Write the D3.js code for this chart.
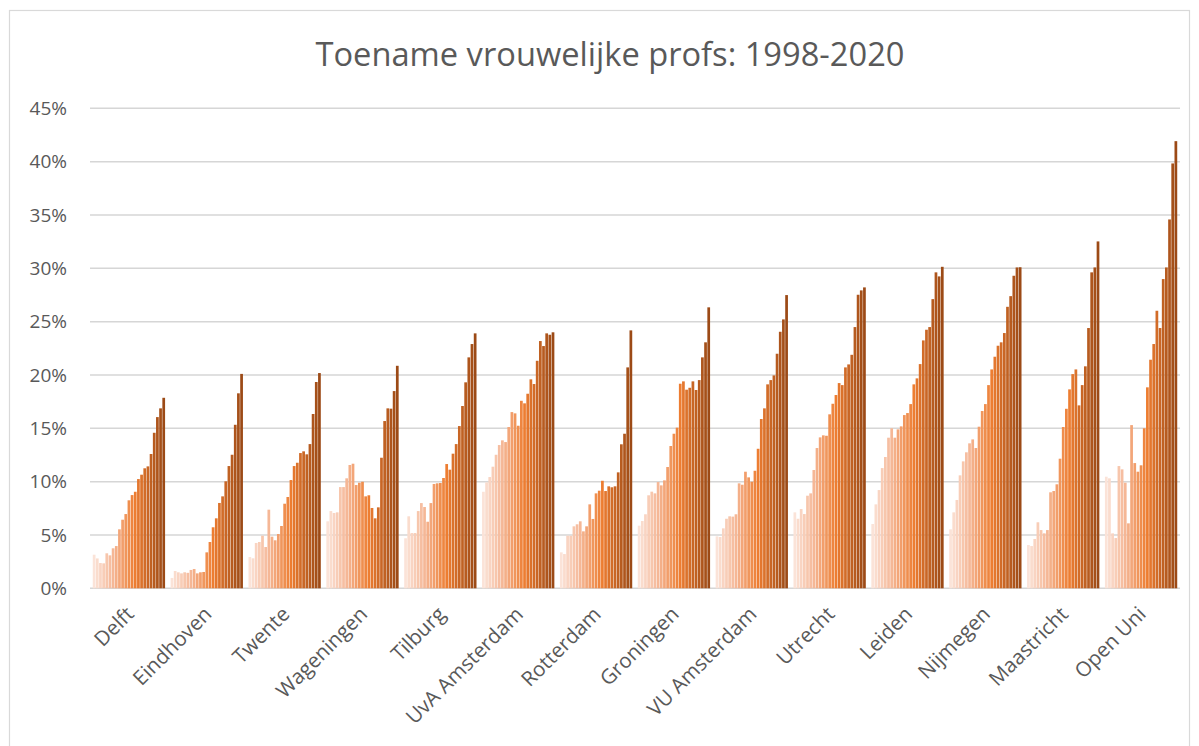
<html lang="nl">
<head>
<meta charset="UTF-8">
<title>Toename vrouwelijke profs: 1998-2020</title>
<style>
    body { margin: 0; background: #fff; }
    svg text { font-family: "Open Sans", sans-serif; fill: #595959; }
</style>
</head>
<body>
<svg id="chart" width="1199" height="746"></svg>
<script src="https://cdnjs.cloudflare.com/ajax/libs/d3/7.8.5/d3.min.js"></script>
<script>
    // categories + years
    const universities = ["Delft", "Eindhoven", "Twente", "Wageningen", "Tilburg", "UvA Amsterdam", "Rotterdam",
        "Groningen", "VU Amsterdam", "Utrecht", "Leiden", "Nijmegen", "Maastricht", "Open Uni"];
    const years = d3.range(1998, 2021);
    const yTicks = [0, 5, 10, 15, 20, 25, 30, 35, 40, 45];

    // share of female professors (%) per year 1998..2020
    const delft = [3.15, 2.8, 2.37, 2.34, 3.28, 3.09, 3.75, 3.96, 5.53, 6.43, 6.96, 8.25, 8.74, 9.05, 10.24, 10.65, 11.25, 11.43, 12.59, 14.58, 16.05, 16.87, 17.86];
    const eindhoven = [0.97, 1.62, 1.5, 1.4, 1.5, 1.45, 1.72, 1.81, 1.4, 1.5, 1.53, 3.37, 4.34, 5.72, 6.56, 8.0, 8.62, 10.03, 11.46, 12.52, 15.33, 18.28, 20.1];
    const twente = [2.93, 2.81, 4.25, 4.34, 4.93, 3.87, 7.37, 4.84, 4.5, 5.09, 5.84, 7.93, 8.56, 10.15, 11.46, 11.77, 12.68, 12.84, 12.56, 13.52, 16.34, 19.34, 20.18];
    const wageningen = [6.28, 7.24, 7.06, 7.12, 9.49, 9.49, 10.31, 11.56, 11.68, 9.68, 9.9, 9.99, 8.62, 8.72, 7.53, 6.56, 7.59, 12.24, 15.68, 16.87, 16.84, 18.49, 20.86];
    const tilburg = [4.69, 6.75, 5.18, 5.18, 7.24, 7.99, 7.62, 6.24, 7.99, 9.78, 9.84, 9.87, 10.34, 11.65, 11.12, 12.62, 13.52, 15.21, 17.09, 19.31, 21.65, 22.9, 23.9];
    const uva = [9.05, 9.93, 10.43, 11.4, 12.52, 13.43, 13.87, 13.71, 15.12, 16.52, 16.4, 15.24, 17.58, 17.34, 18.24, 19.59, 19.15, 21.33, 23.18, 22.71, 23.9, 23.77, 24.0];
    const rotterdam = [3.37, 3.21, 4.93, 4.93, 5.81, 6.0, 6.28, 5.34, 5.81, 7.87, 6.5, 8.9, 9.15, 10.08, 9.12, 9.56, 9.47, 9.56, 10.87, 13.5, 14.49, 20.71, 24.18];
    const groningen = [5.87, 6.31, 6.94, 8.72, 9.06, 8.9, 9.96, 9.65, 10.12, 11.37, 13.34, 14.49, 15.06, 19.18, 19.4, 18.62, 18.8, 19.4, 18.59, 19.52, 21.65, 23.06, 26.34];
    const vu = [4.87, 4.81, 5.62, 6.52, 6.75, 6.72, 6.94, 9.84, 9.71, 10.93, 10.4, 9.99, 11.02, 13.08, 15.87, 16.87, 19.12, 19.52, 19.96, 21.99, 24.05, 25.21, 27.49];
    const utrecht = [7.12, 6.52, 7.43, 6.96, 8.68, 8.9, 11.09, 13.15, 14.15, 14.34, 14.3, 16.31, 17.3, 18.12, 19.24, 19.05, 20.71, 20.99, 21.89, 24.49, 27.52, 27.93, 28.21];
    const leiden = [6.03, 7.87, 9.21, 11.27, 12.31, 14.12, 15.0, 14.12, 14.9, 15.18, 16.24, 16.43, 17.27, 19.12, 19.68, 21.02, 23.24, 24.24, 24.49, 27.11, 29.62, 29.24, 30.14];
    const nijmegen = [5.53, 7.12, 8.28, 10.59, 11.9, 12.75, 13.59, 13.96, 13.15, 15.15, 16.62, 17.27, 19.05, 20.52, 21.71, 22.74, 23.06, 23.93, 26.39, 27.39, 29.3, 30.08, 30.1];
    const maastricht = [4.06, 3.96, 4.62, 6.19, 5.46, 5.15, 5.46, 9.0, 9.12, 9.75, 12.15, 15.12, 16.83, 18.65, 20.08, 20.52, 17.15, 19.05, 20.81, 24.4, 29.62, 30.08, 32.52];
    const openUni = [10.46, 10.31, 5.15, 4.71, 11.46, 11.15, 9.9, 6.09, 15.3, 11.74, 10.93, 11.53, 15.0, 18.84, 21.43, 22.9, 26.02, 24.4, 28.99, 30.08, 34.58, 39.83, 41.92];

    const series = [delft, eindhoven, twente, wageningen, tilburg, uva, rotterdam,
        groningen, vu, utrecht, leiden, nijmegen, maastricht, openUni];

    const svg = d3.select("#chart");
    const plotLeft = 90, plotRight = 1180, plotTop = 108.3, plotBottom = 588.3;

    // chart frame
    svg.append("rect")
        .attr("x", 9.5).attr("y", 10.5)
        .attr("width", 1180).attr("height", 760)
        .attr("fill", "none")
        .attr("stroke", "#d9d9d9")
        .attr("stroke-width", 1.2);

    const x = d3.scaleBand()
        .domain(universities)
        .range([plotLeft, plotRight])
        .paddingInner(0.06)
        .paddingOuter(0.03);

    const xYear = d3.scaleBand()
        .domain(years)
        .range([0, x.bandwidth()])
        .padding(0.14);

    const y = d3.scaleLinear().domain([0, 45]).range([plotBottom, plotTop]);

    const color = d3.scaleLinear()
        .domain([0, 6, 13, 22])
        .range(["#fbe3d8", "#f5b796", "#ed7d31", "#9c4a16"]);

    // gridlines
    svg.append("g")
        .selectAll("line")
        .data(yTicks)
        .join("line")
        .attr("x1", plotLeft).attr("x2", plotRight)
        .attr("y1", d => y(d)).attr("y2", d => y(d))
        .attr("stroke", "#d6d6d6")
        .attr("stroke-width", 1.5);

    // y labels
    svg.append("g")
        .selectAll("text")
        .data(yTicks)
        .join("text")
        .attr("x", 67)
        .attr("y", d => y(d))
        .attr("dy", "0.35em")
        .attr("text-anchor", "end")
        .style("font-size", "19px")
        .text(d => d + "%");

    // bars
    const groups = svg.append("g")
        .selectAll("g")
        .data(universities)
        .join("g")
        .attr("transform", d => `translate(${x(d)},0)`);

    groups.selectAll("rect")
        .data((d, i) => series[i].map((v, j) => ({ year: years[j], value: v, idx: j })))
        .join("rect")
        .attr("x", d => xYear(d.year))
        .attr("y", d => y(d.value))
        .attr("width", xYear.bandwidth())
        .attr("height", d => plotBottom - y(d.value))
        .attr("fill", d => color(d.idx));

    // x labels, rotated
    svg.append("g")
        .selectAll("text")
        .data(universities)
        .join("text")
        .attr("transform", d => `translate(${x(d) + x.bandwidth() / 2 - 4},${plotBottom + 17}) rotate(-45)`)
        .attr("text-anchor", "end")
        .attr("dy", "0.7em")
        .style("font-size", "20.5px")
        .text(d => d);

    // title
    svg.append("text")
        .attr("x", 610)
        .attr("y", 66)
        .attr("text-anchor", "middle")
        .attr("textLength", 589)
        .attr("lengthAdjust", "spacingAndGlyphs")
        .style("font-size", "32px")
        .text("Toename vrouwelijke profs: 1998-2020");
</script>
</body>
</html>
